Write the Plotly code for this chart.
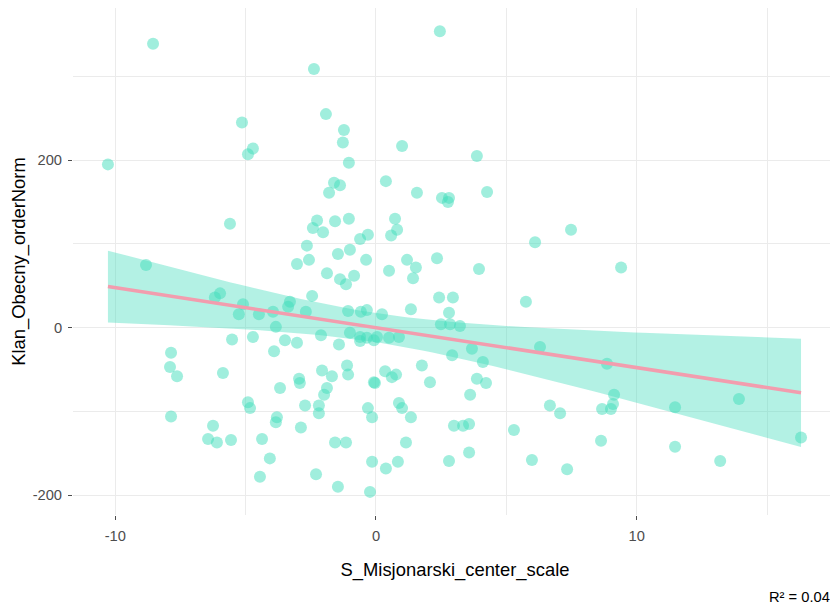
import numpy as np
import plotly.graph_objects as go

# Data
x_vals = [
    -10.28, -8.55, -8.82, -7.86, -7.90, -7.63, -7.86,
    -2.38, -5.14, -4.72, -4.91, -1.92, -1.23, -1.27, -1.04, 1.00, 0.38, -1.61, -1.38, -1.80,
    -5.60, -2.26, -2.42, -2.03, -1.57, -1.04, 0.73, 0.81, 0.58, -0.61, -0.31, -2.65, -2.57,
    -3.03, -1.46, -1.00, -0.38, -1.88, -1.38, -1.15, -0.84, 0.50, 1.19, 1.53, 1.42, 1.57,
    -5.98, -6.18, -2.45,
    2.45, 3.87, 2.53, 2.80, 2.76, 4.26, 7.48, 6.10, 2.34, 3.95, 9.40, 2.42, 2.95, 5.75,
    -3.30, -3.37, -5.10, -5.26, -4.49, -3.95, -2.69, -1.07, -0.58, -0.35, 0.23, -3.84,
    -5.52, -4.72, -3.49, -3.03, -2.11, -1.00, -0.61, -0.61, -0.35, -0.08, 0.04, -1.42, 0.50,
    0.88, -3.91, -5.87, -2.07, -1.69, -1.11, -1.07, -2.95, -2.92, -3.68, -1.88, -1.99, -0.08,
    -0.04, 0.35, -4.91, -4.83, -2.72, -2.19, -2.19, -3.80, -3.84, -0.31, -0.15, -2.88,
    -6.25, -6.44, -6.10, -5.56, -4.37, -1.57, -1.15, -4.07, -0.15, 0.38, -4.45, -2.30,
    -1.46, -0.23,
    1.34, 2.80, 2.49, 2.84, 3.22, 3.68, 6.29, 2.92, 4.10, 1.76, 0.61, 0.77, 2.07, 3.87,
    4.22, 3.61, 0.88, 1.00, 1.34, 6.67, 7.06, 2.99, 3.34, 3.57, 5.29, 1.15, 3.57, 0.84,
    2.80, 5.98, 7.33, 8.86, 9.13, 9.09, 9.01, 8.67, 8.63, 11.47, 11.47, 13.92, 13.20, 16.30,
]
y_vals = [
    195, 339, 75, -30, -47, -58, -106,
    309, 245, 214, 207, 255, 236, 221, 197, 217, 175, 173, 170, 161,
    124, 128, 119, 114, 127, 130, 130, 117, 110, 106, 111, 98, 81,
    76, 88, 93, 81, 65, 58, 52, 62, 68, 81, 72, 59, 161,
    41, 36, 38,
    354, 205, 155, 155, 150, 162, 117, 102, 83, 70, 72, 36, 36, 31,
    31, 25, 28, 16, 16, 19, 19, 20, 19, 21, 16, 1,
    -14, -11, -15, -18, -9, -6, -11, -16, -12, -15, -11, -20, -12,
    -11, -28, -54, -51, -58, -45, -56, -61, -66, -72, -72, -80, -65,
    -66, -52, -89, -96, -93, -93, -102, -107, -113, -96, -107, -119,
    -117, -133, -137, -134, -133, -137, -137, -156, -160, -168, -178, -175,
    -190, -196,
    22, 18, 4, 4, 2, -25, -23, -33, -41, -45, -59, -56, -65, -61,
    -66, -80, -90, -96, -107, -93, -102, -117, -117, -115, -122, -137, -149, -160,
    -159, -158, -169, -43, -80, -91, -97, -97, -135, -95, -142, -85, -159, -131,
]
x_ticks = [-10, 0, 10]
y_ticks = [-200, 0, 200]
x_title = "S_Misjonarski_center_scale"
y_title = "Klan_Obecny_orderNorm"
r2_label = "R² = 0.04"

x = np.array(x_vals, dtype=float)
y = np.array(y_vals, dtype=float)
n = len(x)

# Linear fit with 95% confidence band (as geom_smooth(method="lm"))
slope, intercept = np.polyfit(x, y, 1)
resid = y - (slope * x + intercept)
s = np.sqrt(np.sum(resid ** 2) / (n - 2))
xm = x.mean()
sxx = np.sum((x - xm) ** 2)
t_q = 1.973
xs = np.linspace(x.min(), x.max(), 80)
ys = slope * xs + intercept
se = s * np.sqrt(1.0 / n + (xs - xm) ** 2 / sxx)
upper = ys + t_q * se
lower = ys - t_q * se

pt_color = "rgba(65,221,187,0.5)"
band_color = "rgba(65,221,187,0.4)"
line_color = "#F29DAE"
grid_color = "#EBEBEB"
font_family = "Liberation Sans, Arial, sans-serif"

fig = go.Figure()
fig.add_trace(go.Scatter(
    x=x, y=y, mode="markers",
    marker=dict(size=12, color=pt_color, line=dict(width=0)),
    hoverinfo="skip", showlegend=False,
))
fig.add_trace(go.Scatter(
    x=np.concatenate([xs, xs[::-1]]),
    y=np.concatenate([upper, lower[::-1]]),
    fill="toself", fillcolor=band_color, mode="lines",
    line=dict(width=0), hoverinfo="skip", showlegend=False,
))
fig.add_trace(go.Scatter(
    x=xs, y=ys, mode="lines",
    line=dict(color=line_color, width=3.5),
    hoverinfo="skip", showlegend=False,
))

axis_common = dict(
    showline=False, zeroline=False,
    showgrid=True, gridcolor=grid_color, gridwidth=1.1,
    ticks="outside", ticklen=4, tickwidth=1, tickcolor="#4D4D4D",
    ticklabelstandoff=3,
    tickfont=dict(family=font_family, size=14.7, color="#4D4D4D"),
)

fig.update_xaxes(
    range=[-11.62, 17.68], tickvals=x_ticks, ticktext=[str(v) for v in x_ticks],
    minor=dict(dtick=5, tick0=0, showgrid=True, gridcolor=grid_color, gridwidth=0.6),
    title=dict(text=x_title, font=dict(family=font_family, size=18.4, color="#000000"), standoff=20),
    **axis_common,
)
fig.update_yaxes(
    range=[-223.6, 381.7], tickvals=y_ticks, ticktext=[str(v) for v in y_ticks],
    minor=dict(dtick=100, tick0=0, showgrid=True, gridcolor=grid_color, gridwidth=0.6),
    title=dict(text=y_title, font=dict(family=font_family, size=18.4, color="#000000"), standoff=9),
    **axis_common,
)

fig.add_annotation(
    text=r2_label, xref="paper", yref="paper", x=0.994, y=-0.162,
    xanchor="right", yanchor="middle", showarrow=False,
    font=dict(family=font_family, size=14.7, color="#000000"),
)

# page body has an 8px margin, so the figure is 8px smaller than the window
fig.update_layout(
    width=830, height=599,
    margin=dict(l=65, r=1, t=0, b=92, autoexpand=False),
    plot_bgcolor="white", paper_bgcolor="white",
    showlegend=False,
)

fig.write_html("out.html")
